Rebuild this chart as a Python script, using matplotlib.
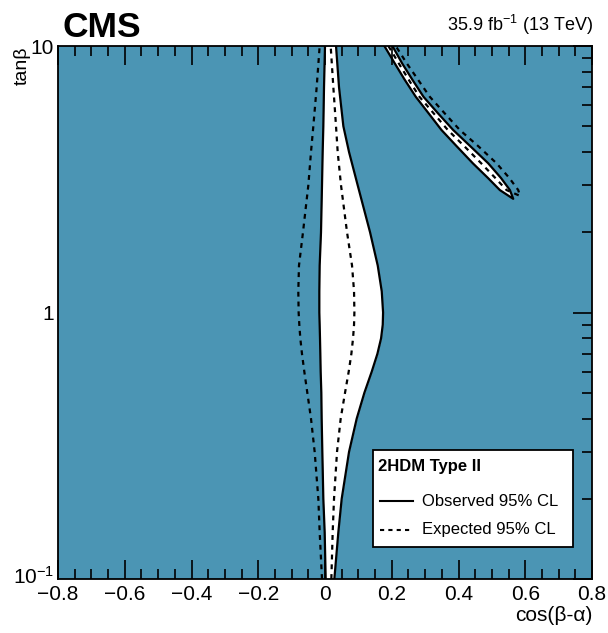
import numpy as np
import matplotlib
matplotlib.use('Agg')
import matplotlib.pyplot as plt
import matplotlib.transforms as mtransforms
from matplotlib.patches import Rectangle
from matplotlib.ticker import FixedLocator, NullFormatter

plt.rcParams['font.family'] = ['Liberation Sans', 'DejaVu Sans']
plt.rcParams['mathtext.fontset'] = 'custom'
plt.rcParams['mathtext.rm'] = 'Liberation Sans'
plt.rcParams['mathtext.it'] = 'Liberation Sans:italic'
plt.rcParams['mathtext.bf'] = 'Liberation Sans:bold'

# tan(beta) grid of the central band
tanb = [0.1, 0.15, 0.2, 0.3, 0.4, 0.5, 0.6, 0.7, 0.8, 0.9, 1.0, 1.2, 1.5, 2, 3, 4, 5, 7, 10]
# observed 95% CL edges, cos(beta-alpha)
obs_left = [0.002, -0.001, -0.005, -0.008, -0.010, -0.011, -0.013, -0.014, -0.015, -0.016,
            -0.017, -0.017, -0.016, -0.012, -0.009, -0.007, -0.005, -0.003, 0.0]
obs_right = [0.028, 0.040, 0.050, 0.072, 0.095, 0.118, 0.140, 0.157, 0.168, 0.173,
             0.174, 0.170, 0.158, 0.135, 0.098, 0.072, 0.055, 0.042, 0.033]
# expected 95% CL edges
exp_left = [-0.009, -0.016, -0.020, -0.031, -0.042, -0.053, -0.062, -0.069, -0.074, -0.077,
            -0.079, -0.080, -0.078, -0.066, -0.050, -0.042, -0.035, -0.025, -0.016]
exp_right = [0.019, 0.023, 0.027, 0.036, 0.047, 0.060, 0.071, 0.079, 0.084, 0.087,
             0.088, 0.087, 0.081, 0.066, 0.048, 0.038, 0.033, 0.025, 0.017]

# wrong-sign band (top right)
tanb_ws = [10, 9.3, 8.61, 7.5, 6.45, 5.6, 4.84, 4.2, 3.63, 3.2, 2.88, 2.67]
obs_ws_low = [0.178, 0.193, 0.209, 0.238, 0.272, 0.310, 0.349, 0.395, 0.443, 0.488, 0.524, 0.564]
obs_ws_high = [0.202, 0.216, 0.231, 0.261, 0.295, 0.338, 0.384, 0.436, 0.489, 0.527, 0.554, 0.564]
tanb_ws_exp = [10, 9.3, 8.61, 7.5, 6.45, 5.6, 4.84, 4.2, 3.63, 3.2, 2.88, 2.74]
exp_ws_in = [0.190, 0.205, 0.221, 0.250, 0.283, 0.325, 0.368, 0.418, 0.468, 0.510, 0.544, 0.584]
exp_ws_out = [0.212, 0.228, 0.245, 0.278, 0.314, 0.358, 0.404, 0.460, 0.514, 0.552, 0.579, 0.584]

teal = '#4b95b4'

fig = plt.figure(figsize=(6.08, 6.33), dpi=100)
ax = fig.add_axes([0.0954, 0.0853, 0.8783, 0.842])
ax.set_facecolor(teal)
ax.set_yscale('log')
ax.set_xlim(-0.8, 0.8)
ax.set_ylim(0.1, 10)

# allowed regions in white
ax.fill_betweenx(tanb, obs_left, obs_right, color='white', lw=0, zorder=1)
ax.fill_betweenx(tanb_ws, obs_ws_low, obs_ws_high, color='white', lw=0, zorder=1)

lw = 1.6
dash = (0, (2.2, 2.2))
ax.plot(obs_left, tanb, color='black', lw=lw, zorder=3)
ax.plot(obs_right, tanb, color='black', lw=lw, zorder=3)
ax.plot(exp_left, tanb, color='black', lw=lw, ls=dash, zorder=3)
ax.plot(exp_right, tanb, color='black', lw=lw, ls=dash, zorder=3)
ax.plot(obs_ws_low + obs_ws_high[::-1], tanb_ws + tanb_ws[::-1], color='black', lw=lw, zorder=3)
ax.plot(exp_ws_in + exp_ws_out[::-1][1:], tanb_ws_exp + tanb_ws_exp[::-1][1:],
        color='black', lw=lw, ls=dash, zorder=3)

# axes and ticks
for s in ax.spines.values():
    s.set_linewidth(1.3)
    s.set_zorder(5)
ax.set_xticks(np.arange(-0.8, 0.81, 0.2))
ax.set_xticklabels(['\u22120.8', '\u22120.6', '\u22120.4', '\u22120.2', '0', '0.2', '0.4', '0.6', '0.8'])
ax.set_xticks(np.arange(-0.8, 0.81, 0.05), minor=True)
ax.set_yticks([0.1, 1, 10])
ax.set_yticklabels(['$10^{-1}$', '1', '10'])
ax.yaxis.set_minor_locator(FixedLocator([0.2, 0.3, 0.4, 0.5, 0.6, 0.7, 0.8, 0.9,
                                         2, 3, 4, 5, 6, 7, 8, 9]))
ax.yaxis.set_minor_formatter(NullFormatter())
ax.tick_params(axis='x', which='both', direction='in', top=True, bottom=True,
               labelsize=15, pad=4, width=1.2)
ax.tick_params(axis='x', which='major', length=14)
ax.tick_params(axis='x', which='minor', length=7)
ax.tick_params(axis='y', which='both', direction='in', left=False, right=True,
               labelsize=15, pad=3, width=1.2)
ax.tick_params(axis='y', which='major', length=14)
ax.tick_params(axis='y', which='minor', length=7)
# lift the 10^-1 label a little so it clears the -0.8 label
lbl = ax.get_yticklabels()[0]
lbl.set_transform(lbl.get_transform() + mtransforms.ScaledTranslation(0, 3 / 72, fig.dpi_scale_trans))

fig.text(0.036, 0.927, 'tan\u03b2', rotation=90, ha='center', va='top', fontsize=14)
fig.text(0.975, 0.012, 'cos(\u03b2-\u03b1)', ha='right', va='bottom', fontsize=15)
fig.text(0.102, 0.942, 'CMS', ha='left', va='baseline', fontsize=25.5, fontweight='bold')
fig.text(0.975, 0.951, '35.9 fb$^{-1}$ (13 TeV)', ha='right', va='baseline', fontsize=13)

# legend box (axes fraction)
ax.add_patch(Rectangle((0.590, 0.060), 0.374, 0.182, transform=ax.transAxes,
                       facecolor='white', edgecolor='black', lw=1.3, zorder=10))
ax.text(0.599, 0.212, '2HDM Type II', transform=ax.transAxes, ha='left', va='center',
        fontsize=12, fontweight='bold', zorder=11)
ax.plot([0.603, 0.665], [0.146, 0.146], transform=ax.transAxes, color='black', lw=1.5, zorder=11)
ax.text(0.682, 0.146, 'Observed 95% CL', transform=ax.transAxes, ha='left', va='center',
        fontsize=12, zorder=11)
ax.plot([0.603, 0.665], [0.092, 0.092], transform=ax.transAxes, color='black', lw=1.5,
        ls=(0, (2, 2)), zorder=11)
ax.text(0.682, 0.092, 'Expected 95% CL', transform=ax.transAxes, ha='left', va='center',
        fontsize=12, zorder=11)

fig.savefig('out.png', dpi=100)
